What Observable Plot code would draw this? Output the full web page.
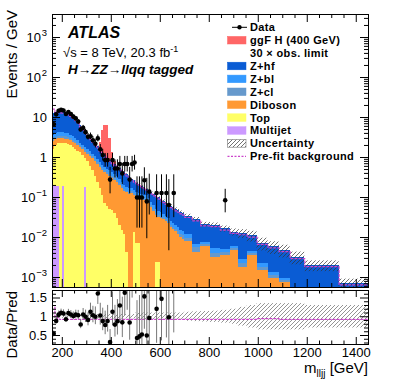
<!DOCTYPE html>
<html><head><meta charset="utf-8">
<script src="https://cdn.jsdelivr.net/npm/d3@7"></script>
<script src="https://cdn.jsdelivr.net/npm/@observablehq/plot@0.6"></script>
<style>
body{margin:0;background:#fff;}
#wrap{position:relative;width:399px;height:383px;overflow:hidden;background:#fff;}
#wrap svg{position:absolute;left:0;}
</style></head><body><div id="wrap"></div>
<script>
// ---------- data (events / GeV per bin) ----------
const edges = [160,170,180,190,200,210,220,230,240,250,260,270,280,290,300,310,320,330,340,350,360,370,380,390,400,410,420,430,440,450,460,470,480,490,500,510,520,530,540,550,560,570,580,590,600,610,620,630,640,650,660,670,680,690,700,730,765,805,845,885,920,955,995,1040,1085,1130,1190,1330,1450];
const multijet = [
0.19,0.19,0.19,0,0.19,0,0,0,0,0,
0,0,0,0.18,0,0,0,0,0,0,
0,0,0,0,0,0,0,0,0,0,
0,0,0,0,0,0,0,0,0,0,
0,0,0,0,0,0,0,0,0,0,
0,0,0,0,
0,0,0,0,0,0,0,0,0,0,0,0,0,0];
const topq = [
1.41,1.81,2.01,2.3,2.11,2.2,2.1,1.95,1.8,1.6,
1.45,1.3,1.1,0.77,0.8,0.6,0.46,0.33,0.24,0.17,
0.11,0.07,0.058,0.05,0.047,0.04,0.03,0.02,0.015,0.012,
0.0043,0,0,0.013,0.007,0.007,0,0,0,0,
0,0,0.0024,0.0024,0,0,0,0,0,0,
0,0,0,0,
0,0,0,0,0,0,0,0,0,0,0,0,0,0];
const diboson = [
0.9,0.8,0.8,0.7,0.7,0.7,0.7,0.65,0.6,0.6,
0.5,0.45,0.45,0.4,0.4,0.45,0.46,0.47,0.44,0.39,
0.36,0.35,0.312,0.28,0.253,0.23,0.21,0.18,0.155,0.128,
0.126,0.12,0.125,0.097,0.093,0.088,0.09,0.085,0.08,0.07,
0.055,0.045,0.033,0.03,0.03,0.028,0.025,0.022,0.018,0.016,
0.014,0.012,0.01,0.009,
0.008,0.0043,0.0058,0.0032,0.0035,0.0046,0.0018,0.0035,0.0015,0.00095,0.00076,0,0,0];
const zcl = [
0.3,0.35,0.4,0.4,0.4,0.4,0.4,0.35,0.3,0.3,
0.25,0.23,0.2,0.17,0.15,0.13,0.11,0.1,0.08,0.07,
0.06,0.05,0.045,0.04,0.04,0.04,0.03,0.025,0.02,0.02,
0.015,0.015,0.015,0.015,0.013,0.011,0.01,0.01,0.01,0.008,
0.007,0.005,0.005,0.004,0.004,0.003,0.003,0.003,0.002,0.002,
0.002,0.002,0.002,0.002,
0.0015,0.0012,0.0007,0.0008,0.0007,0.0006,0.0004,0.0005,0.0003,0.00015,0.00009,0,0,0];
const zbl = [
0.7,0.75,0.8,0.8,0.8,0.7,0.7,0.65,0.6,0.5,
0.4,0.32,0.3,0.28,0.25,0.22,0.17,0.15,0.14,0.12,
0.11,0.1,0.085,0.09,0.08,0.07,0.06,0.055,0.05,0.04,
0.035,0.03,0.025,0.025,0.022,0.022,0.02,0.02,0.02,0.017,
0.013,0.012,0.01,0.009,0.007,0.007,0.006,0.005,0.005,0.005,
0.004,0.004,0.003,0.003,
0.0025,0.001,0.001,0.0012,0.0008,0.0006,0.0006,0.0005,0.0004,0.0002,0.0001,0,0,0];
const zhf = [
9.0,9.6,9.8,9.8,9.6,9.2,8.6,7.9,7.0,6.0,
5.0,4.0,3.15,2.5,2.0,1.6,1.4,1.15,0.95,0.8,
0.66,0.53,0.47,0.4,0.34,0.29,0.27,0.25,0.23,0.22,
0.19,0.165,0.125,0.11,0.095,0.082,0.07,0.06,0.05,0.05,
0.055,0.056,0.057,0.052,0.047,0.042,0.038,0.036,0.035,0.032,
0.03,0.028,0.027,0.025,
0.022,0.0215,0.0135,0.0148,0.0115,0.0078,0.0098,0.0065,0.0049,0.0045,0.0038,0.0032,0.002,0.0007];
const signal = [
0,0,0,0,0,0,0,0,0,0,
0,0,0,0,0,0,0,0,0,0.85,
3.5,5.2,5.2,2.1,0.55,0.13,0,0,0,0,
0,0,0,0,0,0,0,0,0,0,
0,0,0,0,0,0,0,0,0,0,
0,0,0,0,
0,0,0,0,0,0,0,0,0,0,0,0,0,0];
const observed = [
6.8,12,14.8,15.5,15,12.3,13.7,12.2,10.5,9.5,
7.9,5.0,5.5,4.3,3.3,3.4,2.7,2.2,3.0,1.6,
1.15,0.86,0.86,0.28,0.86,0.53,0.53,0.69,0.4,0.69,
0.69,0.28,0.69,0.75,0.1,0.1,0.1,0.27,0.08,0.14,
0,0,0.13,0,0.13,0,0.13,0.065,0,0.13,
0,0,0,0,
0,0,0,0,0.085,0,0,0,0,0,0,0,0,0];
const relUnc = [
0.04,0.04,0.04,0.04,0.04,0.04,0.04,0.04,0.04,0.04,
0.04,0.04,0.04,0.04,0.06,0.06,0.06,0.06,0.06,0.06,
0.06,0.06,0.06,0.06,0.06,0.06,0.06,0.06,0.06,0.06,
0.06,0.06,0.06,0.06,0.1,0.1,0.1,0.1,0.1,0.1,
0.1,0.1,0.1,0.1,0.1,0.1,0.1,0.1,0.1,0.1,
0.1,0.1,0.1,0.1,
0.12,0.13,0.14,0.15,0.17,0.2,0.25,0.3,0.35,0.35,0.35,0.35,0.3,0.3];
const prefitRatio = [
1.3,1.0,0.94,0.93,0.93,0.93,0.93,0.93,0.93,0.93,
0.93,0.93,0.93,0.93,0.93,0.93,0.93,0.93,0.93,0.93,
0.93,0.93,0.93,0.93,0.93,0.93,0.93,0.93,0.93,0.93,
0.93,0.93,0.93,0.93,0.93,0.93,0.93,0.93,0.93,0.93,
0.93,0.93,0.93,0.93,0.93,0.93,0.93,0.93,0.93,0.93,
0.93,0.93,0.93,0.93,
0.93,0.93,0.93,0.93,0.93,0.93,0.93,0.93,0.95,0.95,0.93,0.93,0.93,0.93];

const processNames = ["Multijet","Top","Diboson","Z+cl","Z+bl","Z+hf","ggF H"];
const processColors = ["#cc99ff","#ffff66","#ff9933","#6699cc","#3399ff","#0a5cd4","#ff6666"];
const xTicks = [200,400,600,800,1000,1200,1400];
const mainYTicks = [1e-3,1e-2,1e-1,1,10,100,1000];
const mainYBase = ["10","10","10","1","10","10","10"];
const mainYExp = ["\u22123","\u22122","\u22121","","","2","3"];
const ratioYTicks = [0.5,1,1.5];
const ratioYLabels = ["0.5","1","1.5"];
const legendLabels = ["Data","ggF H (400 GeV)","30 \u00d7 obs. limit","Z+hf","Z+bl","Z+cl","Diboson","Top","Multijet","Uncertainty","Pre-fit background"];

// ---------- derived tables ----------
const FONT = '"Liberation Sans", Arial, Helvetica, sans-serif';
const yLo = Math.pow(10,-3.25), yHi = Math.pow(10,3.575);
const FW = 316, FHM = 273, FHR = 54;
const bins = edges.slice(0,-1).map((x1,i)=>({i,x1,x2:edges[i+1],xc:(x1+edges[i+1])/2,w:edges[i+1]-x1}));
const series = [multijet,topq,diboson,zcl,zbl,zhf,signal];
const total = bins.map((b,i)=>multijet[i]+topq[i]+diboson[i]+zcl[i]+zbl[i]+zhf[i]);
const stackRects = [];
const cum = bins.map(()=>0);
series.forEach((vals,k)=>{
  bins.forEach((b,i)=>{
    const lo = cum[i], hi = lo + vals[i];
    if (vals[i] > 0 && hi > yLo) stackRects.push({x1:b.x1,x2:b.x2,y1:Math.max(lo,yLo),y2:Math.min(hi,yHi),fill:processColors[k]});
    cum[i] = hi;
  });
});
const bandMain = bins.map((b,i)=>({x1:b.x1,x2:b.x2,y1:Math.max(total[i]*(1-relUnc[i]),yLo),y2:total[i]*(1+relUnc[i])}));
const bandRatio = bins.map((b,i)=>({x1:b.x1,x2:b.x2,y1:1-relUnc[i],y2:1+relUnc[i]}));
const prefitMain = [], prefitR = [];
bins.forEach((b,i)=>{
  prefitMain.push({x:b.x1,y:total[i]*prefitRatio[i]},{x:b.x2,y:total[i]*prefitRatio[i]});
  prefitR.push({x:b.x1,y:prefitRatio[i]},{x:b.x2,y:prefitRatio[i]});
});
function poisLo(N){ if(N<=0) return 0; const a=1-1/(9*N)-1/(3*Math.sqrt(N)); return N*a*a*a; }
function poisHi(N){ const M=N+1; const a=1-1/(9*M)+1/(3*Math.sqrt(M)); return M*a*a*a; }
const dataPts = bins.filter(b=>observed[b.i]>0).map(b=>{
  const v = observed[b.i], N = v*b.w;
  const lo = poisLo(N)/b.w, hi = poisHi(N)/b.w;
  const T = total[b.i];
  return {xc:b.xc, v, lo:Math.max(lo,yLo), hi, r:v/T, rlo:lo/T, rhi:hi/T};
});

// tick positions
const xMinor = []; for (let v=250; v<1450; v+=50) if (!xTicks.includes(v)) xMinor.push(v);
const yMinorMain = []; for (let k=-4;k<=3;k++) for (let m=2;m<=9;m++){ const v=m*Math.pow(10,k); if(v>yLo&&v<yHi) yMinorMain.push(v); }
const yMinorRatio = []; for (let v=3; v<=17; v++) if (v%5!==0) yMinorRatio.push(v/10);

const tickMarks = (yMaj, yMin, FH, xMajLen, xMinLen) => [
  Plot.tickY(yMaj,{y:d=>d,insetRight:FW-8,stroke:"black"}),
  Plot.tickY(yMaj,{y:d=>d,insetLeft:FW-8,stroke:"black"}),
  Plot.tickY(yMin,{y:d=>d,insetRight:FW-4,stroke:"black"}),
  Plot.tickY(yMin,{y:d=>d,insetLeft:FW-4,stroke:"black"}),
  Plot.tickX(xTicks,{x:d=>d,insetTop:FH-xMajLen,stroke:"black"}),
  Plot.tickX(xTicks,{x:d=>d,insetBottom:FH-xMajLen,stroke:"black"}),
  Plot.tickX(xMinor,{x:d=>d,insetTop:FH-xMinLen,stroke:"black"}),
  Plot.tickX(xMinor,{x:d=>d,insetBottom:FH-xMinLen,stroke:"black"})
];

const labA = mainYTicks.map((v,i)=>({v,base:mainYBase[i],exp:mainYExp[i]}));
const wrap = document.getElementById("wrap");

// ---------- main panel ----------
const mainSvg = Plot.plot({
  width:399, height:288, marginTop:14, marginBottom:1, marginLeft:52, marginRight:31,
  style:{fontFamily:FONT, fontSize:"13px", color:"black", background:"white"},
  x:{domain:[160,1450], axis:null},
  y:{type:"log", domain:[yLo,yHi], axis:null},
  color:{type:"identity"},
  marks:[
    Plot.rect(stackRects,{x1:"x1",x2:"x2",y1:"y1",y2:"y2",fill:"fill",shapeRendering:"crispEdges",clip:true}),
    Plot.rect(bandMain,{x1:"x1",x2:"x2",y1:"y1",y2:"y2",fill:"url(#hatchA)",clip:true}),
    Plot.line(prefitMain,{x:"x",y:"y",stroke:"#cc44cc",strokeWidth:1.2,strokeDasharray:"2,2",clip:true}),
    Plot.ruleX(dataPts,{x:"xc",y1:"lo",y2:"hi",stroke:"black",strokeWidth:1,clip:true}),
    Plot.dot(dataPts,{x:"xc",y:"v",r:2.3,fill:"black",stroke:"none",clip:true}),
    ...tickMarks(mainYTicks, yMinorMain, FHM, 8, 4),
    Plot.text(labA.filter(d=>d.exp.length===2),{y:"v",text:"base",frameAnchor:"left",textAnchor:"end",dx:-17}),
    Plot.text(labA.filter(d=>d.exp.length===2),{y:"v",text:"exp",frameAnchor:"left",textAnchor:"end",dx:-5.5,dy:-5,fontSize:9.5}),
    Plot.text(labA.filter(d=>d.exp.length===1),{y:"v",text:"base",frameAnchor:"left",textAnchor:"end",dx:-11.5}),
    Plot.text(labA.filter(d=>d.exp.length===1),{y:"v",text:"exp",frameAnchor:"left",textAnchor:"end",dx:-5.5,dy:-5,fontSize:9.5}),
    Plot.text(labA.filter(d=>d.exp.length===0),{y:"v",text:"base",frameAnchor:"left",textAnchor:"end",dx:-5.5}),
    Plot.frame({stroke:"black"})
  ]
});
mainSvg.style.top = "0px";
wrap.appendChild(mainSvg);

// ---------- ratio panel ----------
const ratioSvg = Plot.plot({
  width:399, height:95, marginTop:2, marginBottom:39, marginLeft:52, marginRight:31,
  style:{fontFamily:FONT, fontSize:"13px", color:"black", background:"transparent"},
  x:{domain:[160,1450], axis:null},
  y:{domain:[0.26,1.7], axis:null},
  marks:[
    Plot.rect(bandRatio,{x1:"x1",x2:"x2",y1:"y1",y2:"y2",fill:"url(#hatchB)",clip:true}),
    Plot.line(prefitR,{x:"x",y:"y",stroke:"#cc44cc",strokeWidth:1.2,strokeDasharray:"2,2",clip:true}),
    Plot.ruleX(dataPts,{x:"xc",y1:"rlo",y2:"rhi",stroke:"#777",strokeWidth:1,clip:true}),
    Plot.dot(dataPts,{x:"xc",y:"r",r:2.3,fill:"black",stroke:"none",clip:true}),
    ...tickMarks(ratioYTicks, yMinorRatio, FHR, 7, 3.5),
    Plot.text(ratioYTicks,{y:d=>d,text:(d,i)=>ratioYLabels[i],frameAnchor:"left",textAnchor:"end",dx:-5.5}),
    Plot.text(xTicks,{x:d=>d,text:d=>String(d),frameAnchor:"bottom",lineAnchor:"top",dy:3}),
    Plot.frame({stroke:"black"})
  ]
});
ratioSvg.style.top = "288px";
wrap.appendChild(ratioSvg);

// ---------- hatch patterns ----------
function addHatch(svg,id,color){
  const defs = d3.select(svg).insert("defs",":first-child");
  const p = defs.append("pattern").attr("id",id).attr("width",4).attr("height",4).attr("patternUnits","userSpaceOnUse");
  p.append("path").attr("d","M0,4 L4,0 M-1,1 L1,-1 M3,5 L5,3").attr("stroke",color).attr("stroke-width",0.7).attr("fill","none");
}
addHatch(mainSvg,"hatchA","#333");
addHatch(ratioSvg,"hatchB","#666");

// ---------- labels ----------
const ms = d3.select(mainSvg);
ms.append("text").attr("transform","translate(17,10) rotate(-90)").attr("text-anchor","end")
  .attr("font-family",FONT).attr("font-size",15).text("Events / GeV");
ms.append("text").attr("x",68).attr("y",38).attr("text-anchor","start").attr("font-family",FONT).attr("font-size",16)
  .attr("font-weight","bold").attr("font-style","italic").text("ATLAS");
const s1 = ms.append("text").attr("x",63).attr("y",57).attr("text-anchor","start").attr("font-family",FONT).attr("font-size",13);
s1.append("tspan").text("\u221as = 8 TeV, 20.3 fb");
s1.append("tspan").attr("font-size",9).attr("dy",-5).text("-1");
ms.append("text").attr("x",68).attr("y",74).attr("text-anchor","start").attr("font-family",FONT).attr("font-size",13.5)
  .attr("font-weight","bold").attr("font-style","italic").text("H\u2192ZZ\u2192llqq tagged");

// legend
const rowsY = [27.3,40.2,53.1,66.0,78.9,91.8,104.7,117.6,130.5,143.4,156.3];
const lg = ms.append("g").attr("font-family",FONT).attr("font-size",11).attr("font-weight","bold").attr("text-anchor","start");
legendLabels.forEach((t,i)=>{
  lg.append("text").attr("x",250).attr("y",rowsY[i]).attr("dy","0.36em").attr("text-anchor","start")
    .attr("letter-spacing","0.35px").text(t);
});
const swatchColor = {1:"#ff6666",3:"#0a5cd4",4:"#3399ff",5:"#6699cc",6:"#ff9933",7:"#ffff66",8:"#cc99ff"};
Object.keys(swatchColor).forEach(k=>{
  lg.append("rect").attr("x",227.5).attr("y",rowsY[k]-3.8).attr("width",18.5).attr("height",7.6)
    .attr("fill",swatchColor[k]).attr("stroke",swatchColor[k]).attr("stroke-width",0.5);
});
lg.append("line").attr("x1",232).attr("x2",247).attr("y1",rowsY[0]).attr("y2",rowsY[0]).attr("stroke","black");
lg.append("circle").attr("cx",239.5).attr("cy",rowsY[0]).attr("r",2.2).attr("fill","black");
lg.append("rect").attr("x",227.5).attr("y",rowsY[9]-3.8).attr("width",18.5).attr("height",7.6)
  .attr("fill","url(#hatchA)").attr("stroke","#777").attr("stroke-width",0.6);
lg.append("line").attr("x1",227.5).attr("x2",246).attr("y1",rowsY[10]).attr("y2",rowsY[10])
  .attr("stroke","#cc44cc").attr("stroke-width",1.2).attr("stroke-dasharray","2,1.5");

// ratio labels
const rs = d3.select(ratioSvg);
rs.append("text").attr("transform","translate(17,3) rotate(-90)").attr("text-anchor","end")
  .attr("font-family",FONT).attr("font-size",15).text("Data/Pred");
const xt = rs.append("text").attr("x",368).attr("y",85).attr("text-anchor","end").attr("font-family",FONT).attr("font-size",15);
xt.append("tspan").text("m");
xt.append("tspan").attr("font-size",10).attr("dy",4).text("lljj");
xt.append("tspan").attr("dy",-4).text(" [GeV]");
</script></body></html>
